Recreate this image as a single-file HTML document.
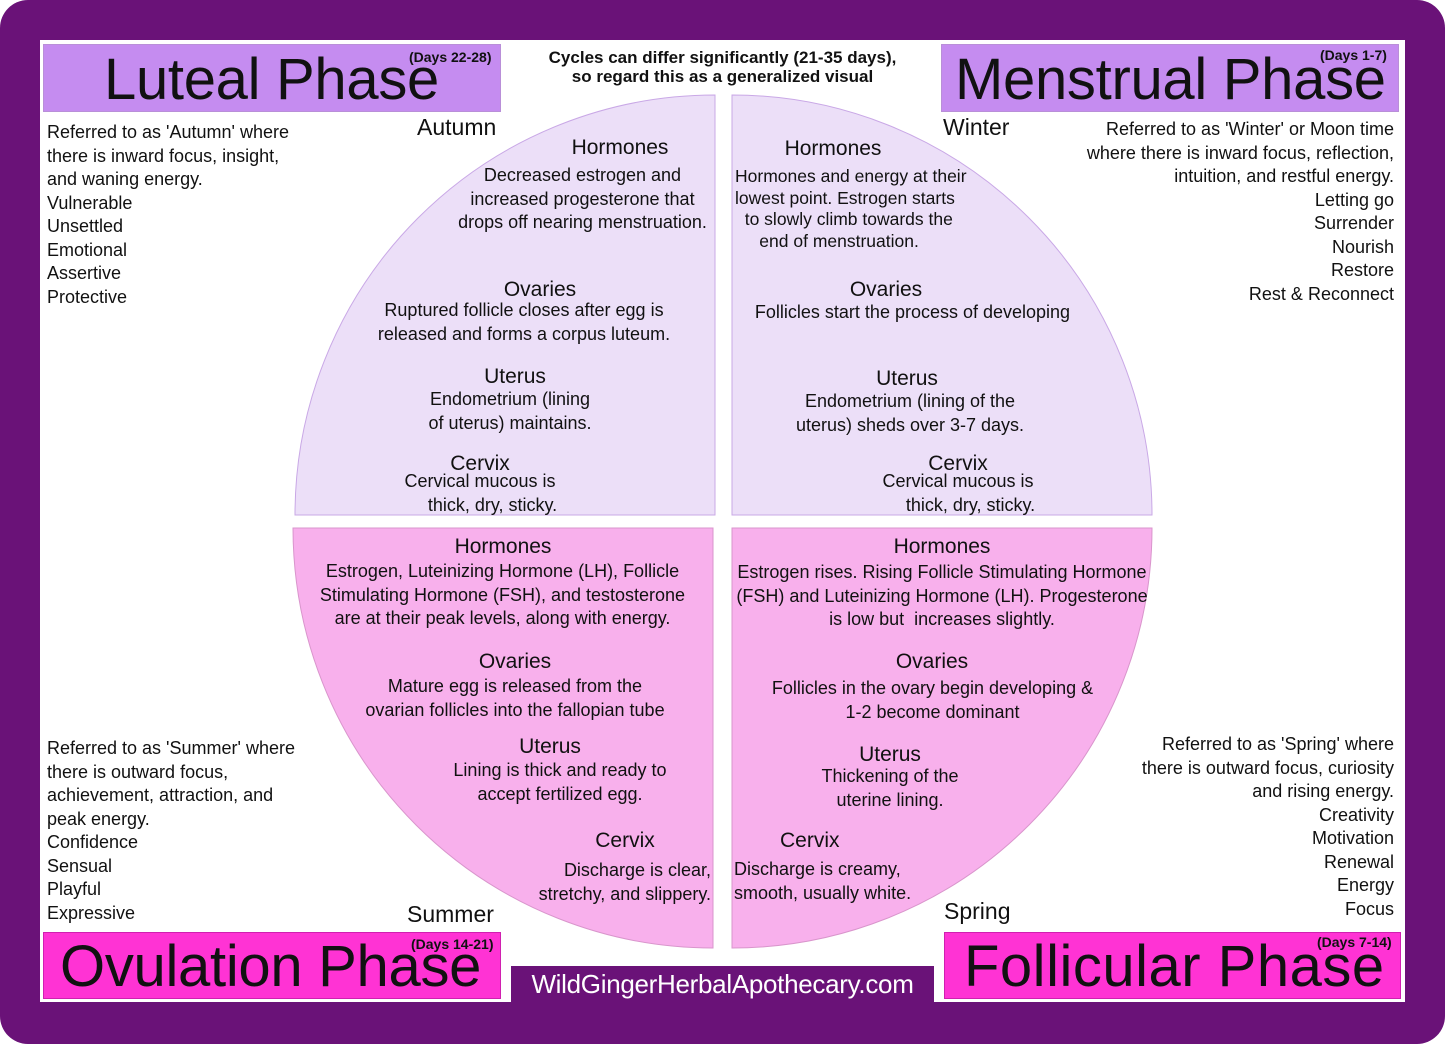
<!DOCTYPE html>
<html><head><meta charset="utf-8"><style>
*{margin:0;padding:0;box-sizing:border-box}
html{background:#fff}
body{width:1445px;height:1044px;background:#6a1278;position:relative;overflow:hidden;font-family:"Liberation Sans",sans-serif;color:#111;border-radius:28px}
.panel{position:absolute;left:40px;top:40px;width:1365px;height:962px;background:#fff}
.t{position:absolute;white-space:nowrap;font-size:18px;line-height:23.5px;letter-spacing:0px}
.c{text-align:center}.r{text-align:right}
.h{font-size:21px;letter-spacing:0px}
.box{position:absolute;border:1px solid #b98fd8}
.title{position:absolute;font-size:58px;line-height:60px;letter-spacing:-0.3px;white-space:nowrap}
.days{position:absolute;font-size:14px;font-weight:bold;white-space:nowrap}
</style></head><body>
<div class="panel"></div>
<svg style="position:absolute;left:0;top:0" width="1445" height="1044">
<path d="M715 515 L295 515 A420 420 0 0 1 715 95 Z" fill="#ecdff8" stroke="#c9a8e6"/>
<path d="M732 515 L732 95 A420 420 0 0 1 1152 515 Z" fill="#ecdff8" stroke="#c9a8e6"/>
<path d="M713 528 L293 528 A420 420 0 0 0 713 948 Z" fill="#f8b0ec" stroke="#d995cc"/>
<path d="M732 528 L1152 528 A420 420 0 0 1 732 948 Z" fill="#f8b0ec" stroke="#d995cc"/>
</svg>
<div class="box" style="left:43px;top:44px;width:458px;height:68px;background:#c58cf0"></div>
<div class="title" style="left:104px;top:50px">Luteal Phase</div>
<div class="days" style="left:409px;top:49px">(Days 22-28)</div>
<div class="box" style="left:941px;top:44px;width:458px;height:68px;background:#c58cf0"></div>
<div class="title" style="left:955px;top:50px">Menstrual Phase</div>
<div class="days" style="left:1320px;top:47px">(Days 1-7)</div>
<div class="box" style="left:43px;top:932px;width:458px;height:67px;background:#ff33d4;border-color:#d020b0"></div>
<div class="title" style="left:60px;top:937px">Ovulation Phase</div>
<div class="days" style="left:411px;top:936px">(Days 14-21)</div>
<div class="box" style="left:944px;top:932px;width:457px;height:67px;background:#ff33d4;border-color:#d020b0"></div>
<div class="title" style="left:964px;top:937px;letter-spacing:0.5px">Follicular Phase</div>
<div class="days" style="left:1317px;top:934px">(Days 7-14)</div>
<div style="position:absolute;left:511px;top:966px;width:423px;height:37px;background:#6a1278;color:#fff;font-size:26px;line-height:37px;text-align:center;letter-spacing:-0.3px">WildGingerHerbalApothecary.com</div>
<div class="t c" style="left:520px;top:48px;width:405px;font-weight:bold;font-size:17px;line-height:19px">Cycles can differ significantly (21-35 days),<br>so regard this as a generalized visual</div>
<div class="t h" style="left:417px;top:116px;font-size:23px">Autumn</div>
<div class="t h" style="left:943px;top:116px;font-size:23px">Winter</div>
<div class="t h" style="left:407px;top:903px;font-size:23px">Summer</div>
<div class="t h" style="left:944px;top:900px;font-size:23px">Spring</div>
<div class="t" style="left:47px;top:121px">Referred to as 'Autumn' where<br>there is inward focus, insight,<br>and waning energy.<br>Vulnerable<br>Unsettled<br>Emotional<br>Assertive<br>Protective</div>
<div class="t r" style="right:51px;top:118px">Referred to as 'Winter' or Moon time<br>where there is inward focus, reflection,<br>intuition, and restful energy.<br>Letting go<br>Surrender<br>Nourish<br>Restore<br>Rest &amp; Reconnect</div>
<div class="t" style="left:47px;top:737px">Referred to as 'Summer' where<br>there is outward focus,<br>achievement, attraction, and<br>peak energy.<br>Confidence<br>Sensual<br>Playful<br>Expressive</div>
<div class="t r" style="right:51px;top:733px">Referred to as 'Spring' where<br>there is outward focus, curiosity<br>and rising energy.<br>Creativity<br>Motivation<br>Renewal<br>Energy<br>Focus</div>
<div class="t c h" style="left:520px;top:136px;width:200px">Hormones</div>
<div class="t c" style="left:450px;top:164px;width:265px">Decreased estrogen and<br>increased progesterone that<br>drops off nearing menstruation.</div>
<div class="t c h" style="left:440px;top:278px;width:200px">Ovaries</div>
<div class="t c" style="left:370px;top:299px;width:308px">Ruptured follicle closes after egg is<br>released and forms a corpus luteum.</div>
<div class="t c h" style="left:415px;top:365px;width:200px">Uterus</div>
<div class="t c" style="left:410px;top:388px;width:200px">Endometrium (lining<br>of uterus) maintains.</div>
<div class="t c h" style="left:380px;top:452px;width:200px">Cervix</div>
<div class="t c" style="left:380px;top:470px;width:200px">Cervical mucous is<br>&nbsp;&nbsp;&nbsp;&nbsp;&nbsp;thick, dry, sticky.</div>
<div class="t c h" style="left:733px;top:137px;width:200px">Hormones</div>
<div class="t" style="left:735px;top:166px;font-size:17.5px;line-height:21.5px">Hormones and energy at their<br>lowest point. Estrogen starts<br>&nbsp;&nbsp;to slowly climb towards the<br>&nbsp;&nbsp;&nbsp;&nbsp;&nbsp;end of menstruation.</div>
<div class="t c h" style="left:786px;top:278px;width:200px">Ovaries</div>
<div class="t c" style="left:745px;top:301px;width:335px">Follicles start the process of developing</div>
<div class="t c h" style="left:807px;top:367px;width:200px">Uterus</div>
<div class="t c" style="left:780px;top:390px;width:260px">Endometrium (lining of the<br>uterus) sheds over 3-7 days.</div>
<div class="t c h" style="left:858px;top:452px;width:200px">Cervix</div>
<div class="t c" style="left:858px;top:470px;width:200px">Cervical mucous is<br>&nbsp;&nbsp;&nbsp;&nbsp;&nbsp;thick, dry, sticky.</div>
<div class="t c h" style="left:403px;top:535px;width:200px">Hormones</div>
<div class="t c" style="left:300px;top:560px;width:405px">Estrogen, Luteinizing Hormone (LH), Follicle<br>Stimulating Hormone (FSH), and testosterone<br>are at their peak levels, along with energy.</div>
<div class="t c h" style="left:415px;top:650px;width:200px">Ovaries</div>
<div class="t c" style="left:350px;top:675px;width:330px">Mature egg is released from the<br>ovarian follicles into the fallopian tube</div>
<div class="t c h" style="left:450px;top:735px;width:200px">Uterus</div>
<div class="t c" style="left:440px;top:759px;width:240px">Lining is thick and ready to<br>accept fertilized egg.</div>
<div class="t c h" style="left:525px;top:829px;width:200px">Cervix</div>
<div class="t r" style="right:734px;top:859px">Discharge is clear,<br>stretchy, and slippery.</div>
<div class="t c h" style="left:842px;top:535px;width:200px">Hormones</div>
<div class="t c" style="left:733px;top:561px;width:418px">Estrogen rises. Rising Follicle Stimulating Hormone<br>(FSH) and Luteinizing Hormone (LH). Progesterone<br>is low but &nbsp;increases slightly.</div>
<div class="t c h" style="left:832px;top:650px;width:200px">Ovaries</div>
<div class="t c" style="left:760px;top:677px;width:345px">Follicles in the ovary begin developing &amp;<br>1-2 become dominant</div>
<div class="t c h" style="left:790px;top:743px;width:200px">Uterus</div>
<div class="t c" style="left:790px;top:765px;width:200px">Thickening of the<br>uterine lining.</div>
<div class="t h" style="left:780px;top:829px">Cervix</div>
<div class="t" style="left:734px;top:858px">Discharge is creamy,<br>smooth, usually white.</div>
</body></html>
